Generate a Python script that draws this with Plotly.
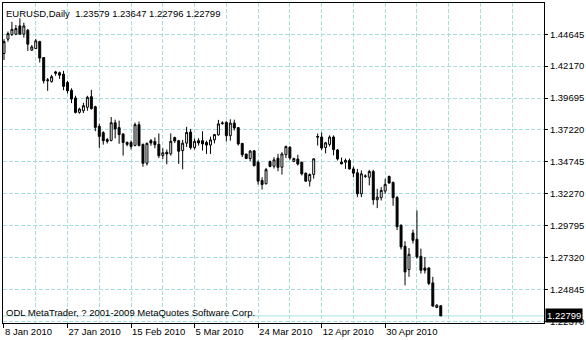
import plotly.graph_objects as go

OPEN = [1.4315, 1.4426, 1.4463, 1.4464, 1.4529, 1.4465, 1.4495, 1.4341, 1.4353, 1.4407,
        1.4283, 1.4103, 1.4097, 1.4172, 1.4166, 1.4155, 1.4090, 1.4030, 1.3970, 1.3858,
        1.3871, 1.3898, 1.3980, 1.3902, 1.3750, 1.3701, 1.3647, 1.3641, 1.3778, 1.3740,
        1.3690, 1.3625, 1.3625, 1.3602, 1.3763, 1.3610, 1.3464, 1.3639, 1.3633, 1.3610,
        1.3523, 1.3549, 1.3537, 1.3663, 1.3639, 1.3562, 1.3620, 1.3706, 1.3585, 1.3639,
        1.3639, 1.3625, 1.3605, 1.3645, 1.3684, 1.3771, 1.3781, 1.3678, 1.3776, 1.3740,
        1.3618, 1.3535, 1.3500, 1.3560, 1.3472, 1.3330, 1.3305, 1.3477, 1.3441, 1.3503,
        1.3433, 1.3530, 1.3588, 1.3478, 1.3496, 1.3472, 1.3387, 1.3325, 1.3377, 1.3671,
        1.3667, 1.3586, 1.3610, 1.3667, 1.3567, 1.3472, 1.3472, 1.3485, 1.3420, 1.3390,
        1.3227, 1.3362, 1.3355, 1.3400, 1.3181, 1.3197, 1.3248, 1.3361, 1.3315, 1.3198,
        1.2983, 1.2820, 1.2640, 1.2923, 1.2874, 1.2742, 1.2652, 1.2652, 1.2536, 1.2346,
        1.23579]
HIGH = [1.4426, 1.4485, 1.4560, 1.4536, 1.4588, 1.4554, 1.4505, 1.4380, 1.4428, 1.4413,
        1.4287, 1.4125, 1.4149, 1.4181, 1.4175, 1.4181, 1.4103, 1.4045, 1.3987, 1.3894,
        1.3933, 1.3987, 1.4033, 1.3910, 1.3770, 1.3712, 1.3660, 1.3822, 1.3802, 1.3794,
        1.3698, 1.3633, 1.3640, 1.3779, 1.3787, 1.3617, 1.3625, 1.3652, 1.3664, 1.3695,
        1.3580, 1.3570, 1.3695, 1.3670, 1.3645, 1.3645, 1.3746, 1.3730, 1.3655, 1.3658,
        1.3712, 1.3639, 1.3670, 1.3691, 1.3800, 1.3789, 1.3789, 1.3805, 1.3802, 1.3745,
        1.3620, 1.3537, 1.3566, 1.3566, 1.3485, 1.3355, 1.3428, 1.3485, 1.3510, 1.3537,
        1.3549, 1.3601, 1.3597, 1.3507, 1.3530, 1.3476, 1.3392, 1.3384, 1.3503, 1.3694,
        1.3702, 1.3630, 1.3680, 1.3680, 1.3575, 1.3508, 1.3500, 1.3500, 1.3438, 1.3420,
        1.3408, 1.3378, 1.3413, 1.3413, 1.3266, 1.3279, 1.3344, 1.3369, 1.3322, 1.3211,
        1.2990, 1.2859, 1.2807, 1.2949, 1.3098, 1.2802, 1.2737, 1.2655, 1.2583, 1.2371,
        1.23647]
LOW = [1.4264, 1.4407, 1.4451, 1.4457, 1.4459, 1.4438, 1.4335, 1.4335, 1.4351, 1.4245,
       1.4082, 1.4025, 1.4089, 1.4142, 1.4118, 1.4030, 1.4005, 1.3930, 1.3850, 1.3848,
       1.3853, 1.3871, 1.3879, 1.3712, 1.3583, 1.3608, 1.3617, 1.3633, 1.3656, 1.3615,
       1.3523, 1.3595, 1.3572, 1.3595, 1.3595, 1.3437, 1.3446, 1.3600, 1.3580, 1.3505,
       1.3497, 1.3456, 1.3523, 1.3621, 1.3459, 1.3417, 1.3590, 1.3570, 1.3570, 1.3601,
       1.3562, 1.3536, 1.3536, 1.3618, 1.3678, 1.3763, 1.3634, 1.3639, 1.3718, 1.3601,
       1.3512, 1.3497, 1.3480, 1.3440, 1.3298, 1.3260, 1.3299, 1.3433, 1.3423, 1.3402,
       1.3376, 1.3504, 1.3492, 1.3472, 1.3446, 1.3369, 1.3320, 1.3284, 1.3344, 1.3601,
       1.3566, 1.3540, 1.3594, 1.3525, 1.3485, 1.3455, 1.3420, 1.3415, 1.3356, 1.3201,
       1.3201, 1.3350, 1.3292, 1.3142, 1.3116, 1.3175, 1.3227, 1.3307, 1.3134, 1.2946,
       1.2795, 1.2517, 1.2583, 1.2841, 1.2725, 1.2609, 1.2609, 1.2519, 1.2351, 1.2340,
       1.22796]
CLOSE = [1.4407, 1.4469, 1.4502, 1.4508, 1.4465, 1.4529, 1.4387, 1.4366, 1.4413, 1.4279,
         1.4103, 1.4110, 1.4135, 1.4162, 1.4147, 1.4060, 1.4026, 1.3962, 1.3858, 1.3884,
         1.3910, 1.3975, 1.3888, 1.3742, 1.3672, 1.3639, 1.3634, 1.3778, 1.3730, 1.3686,
         1.3625, 1.3610, 1.3594, 1.3763, 1.3601, 1.3464, 1.3618, 1.3621, 1.3608, 1.3523,
         1.3545, 1.3536, 1.3634, 1.3637, 1.3557, 1.3620, 1.3703, 1.3585, 1.3634, 1.3621,
         1.3614, 1.3605, 1.3645, 1.3686, 1.3769, 1.3776, 1.3678, 1.3775, 1.3737, 1.3614,
         1.3530, 1.3500, 1.3558, 1.3445, 1.3325, 1.3299, 1.3414, 1.3439, 1.3490, 1.3432,
         1.3536, 1.3593, 1.3504, 1.3500, 1.3458, 1.3382, 1.3325, 1.3377, 1.3498, 1.3667,
         1.3582, 1.3622, 1.3667, 1.3570, 1.3497, 1.3459, 1.3485, 1.3420, 1.3387, 1.3227,
         1.3382, 1.3365, 1.3400, 1.3181, 1.3201, 1.3253, 1.3300, 1.3310, 1.3197, 1.2971,
         1.2815, 1.2621, 1.2758, 1.2866, 1.2737, 1.2634, 1.2634, 1.2532, 1.2356, 1.2363,
         1.22799]

X_TICK_POS = [0, 16, 32, 48, 64, 80, 96]
X_TICK_LABELS = ["8 Jan 2010", "27 Jan 2010", "15 Feb 2010", "5 Mar 2010",
                 "24 Mar 2010", "12 Apr 2010", "30 Apr 2010"]
Y_TICKS = [1.44645, 1.42170, 1.39695, 1.37220, 1.34745, 1.32270, 1.29795, 1.27320, 1.24845, 1.22370]
Y_TICK_LABELS = ["1.44645", "1.42170", "1.39695", "1.37220", "1.34745",
                 "1.32270", "1.29795", "1.27320", "1.24845", "1.22370"]
SYMBOL = "EURUSD,Daily"
FOOTER = "ODL MetaTrader, ? 2001-2009 MetaQuotes Software Corp."

FONT = "Liberation Sans"
GRID = "#A8DEDE"
LINE_CLR = "#A8DEDE"

n = len(OPEN)
xs = list(range(n))

fig = go.Figure()
fig.add_trace(go.Candlestick(
    x=xs, open=OPEN, high=HIGH, low=LOW, close=CLOSE,
    increasing=dict(line=dict(color="black", width=1), fillcolor="white"),
    decreasing=dict(line=dict(color="black", width=1), fillcolor="black"),
    whiskerwidth=0, showlegend=False, hoverinfo="skip",
))

last_c = CLOSE[-1]
fig.add_shape(type="line", xref="paper", x0=0, x1=1, yref="y", y0=last_c, y1=last_c,
              line=dict(color=LINE_CLR, width=1), layer="below")

header = f"{SYMBOL}\u00a0\u00a0{OPEN[-1]:.5f} {HIGH[-1]:.5f} {LOW[-1]:.5f} {CLOSE[-1]:.5f}"
fig.add_annotation(text=header, xref="paper", yref="paper", x=0, y=1, xanchor="left", yanchor="top",
                   xshift=1, yshift=-3, showarrow=False, font=dict(family=FONT, size=9.5, color="black"))
fig.add_annotation(text=FOOTER, xref="paper", yref="paper", x=0, y=0, xanchor="left", yanchor="bottom",
                   xshift=1, yshift=3, showarrow=False, font=dict(family=FONT, size=9.5, color="black"))
fig.add_annotation(text=f"{last_c:.5f}", xref="paper", yref="y", x=1, y=last_c, xanchor="left",
                   yanchor="middle", xshift=1, showarrow=False, bgcolor="black", borderpad=1,
                   font=dict(family=FONT, size=9.5, color="white"))

fig.update_layout(
    width=586, height=340,
    margin=dict(l=3, r=38, t=2, b=17),
    paper_bgcolor="white", plot_bgcolor="white",
    font=dict(family=FONT, size=9.5, color="black"),
    hovermode=False,
)
fig.update_xaxes(
    range=[-0.25, 136.0],
    rangeslider=dict(visible=False),
    tickvals=X_TICK_POS, ticktext=X_TICK_LABELS,
    ticklabelposition="outside right",
    ticks="outside", ticklen=4, tickcolor="black",
    showgrid=True, gridcolor=GRID, griddash="4px,2px", gridwidth=1,
    minor=dict(dtick=8, tick0=0, showgrid=True, gridcolor=GRID, griddash="4px,2px", ticks=""),
    showline=True, linecolor="black", linewidth=1, mirror=True,
    zeroline=False,
)
fig.update_yaxes(
    range=[1.22251, 1.47064],
    side="right",
    tickvals=Y_TICKS, ticktext=Y_TICK_LABELS,
    ticks="outside", ticklen=3, tickcolor="black",
    showgrid=True, gridcolor=GRID, griddash="4px,2px", gridwidth=1,
    showline=True, linecolor="black", linewidth=1, mirror=True,
    zeroline=False,
)

fig.write_html("out.html", config={"displayModeBar": False})
